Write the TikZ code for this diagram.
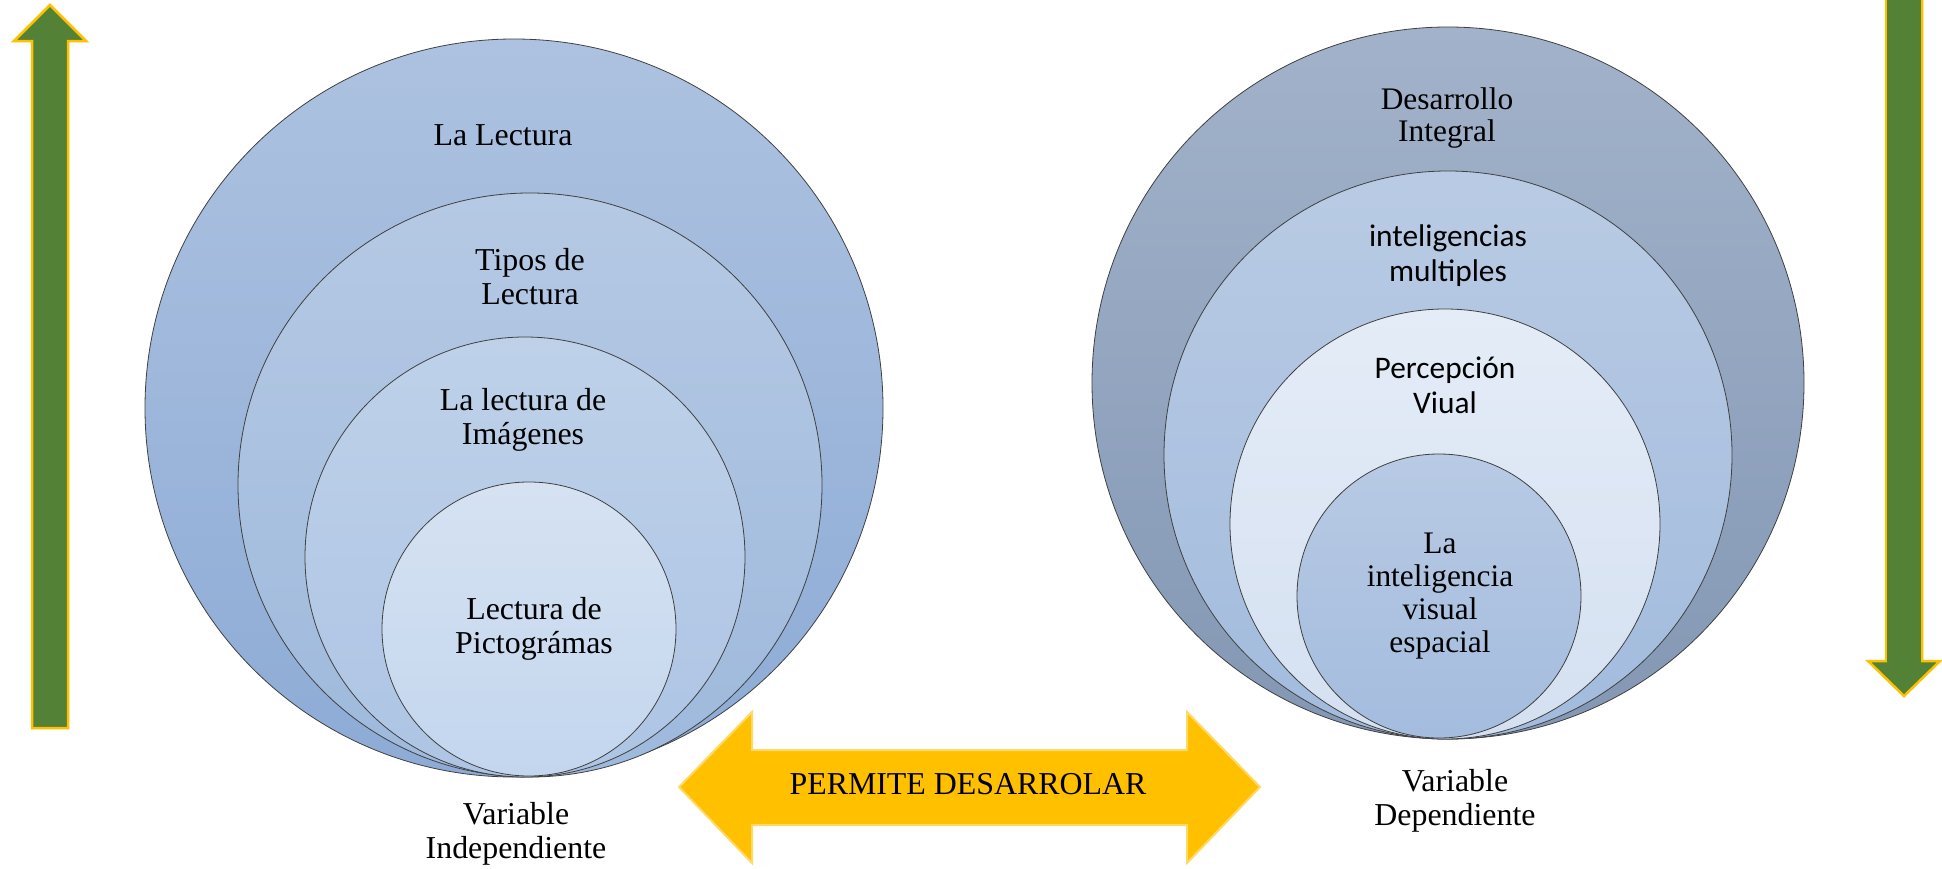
\documentclass[tikz,border=0pt]{standalone}
\usepackage{fontspec}
\setmainfont{Liberation Serif}
\newfontfamily\calfont{Carlito}
\definecolor{arrowgreen}{HTML}{538135}
\definecolor{arrowyellow}{HTML}{FFC000}
\definecolor{goldfill}{HTML}{FFC000}
\definecolor{goldline}{HTML}{FFD966}
\definecolor{lAt}{HTML}{ADC2E0}\definecolor{lAb}{HTML}{8DABD6}
\definecolor{lBt}{HTML}{B5C9E4}\definecolor{lBb}{HTML}{9EB9DC}
\definecolor{lCt}{HTML}{BED1E9}\definecolor{lCb}{HTML}{ADC4E4}
\definecolor{lDt}{HTML}{D6E2F2}\definecolor{lDb}{HTML}{C3D6EE}
\definecolor{rAt}{HTML}{A2B2CA}\definecolor{rAb}{HTML}{8397B4}
\definecolor{rBt}{HTML}{B9CBE4}\definecolor{rBb}{HTML}{A2BBDD}
\definecolor{rCt}{HTML}{E4ECF7}\definecolor{rCb}{HTML}{D4E0F1}
\definecolor{rDt}{HTML}{B8CAE4}\definecolor{rDb}{HTML}{A4BCDE}
\begin{document}
\begin{tikzpicture}[x=1bp,y=-1bp,
  ring/.style={circle, draw=black!75, line width=0.8bp, inner sep=0pt},
  lbl/.style={align=center, font=\fontsize{32}{34}\selectfont, inner sep=0pt},
  lblr/.style={align=center, font=\fontsize{31.5}{33}\selectfont, inner sep=0pt},
  lblc/.style={align=center, font=\calfont\fontsize{31.5}{35}\selectfont, inner sep=0pt},
  greenarrow/.style={fill=arrowgreen, draw=arrowyellow, line width=2.5bp, line join=miter},
]
\useasboundingbox (0,0) rectangle (1942,869);
\fill[white] (0,0) rectangle (1942,869);

% left circles
\node[ring, minimum size=738bp, top color=lAt, bottom color=lAb] (L1) at (514,408) {};
\node[ring, minimum size=584bp, top color=lBt, bottom color=lBb] (L2) at (530,485) {};
\node[ring, minimum size=440bp, top color=lCt, bottom color=lCb] (L3) at (525,557) {};
\node[ring, minimum size=294bp, top color=lDt, bottom color=lDb] (L4) at (529,629) {};

% right circles
\node[ring, minimum size=712bp, top color=rAt, bottom color=rAb] (R1) at (1448,383) {};
\node[ring, minimum size=568bp, top color=rBt, bottom color=rBb] (R2) at (1448,455) {};
\node[ring, minimum size=430bp, top color=rCt, bottom color=rCb] (R3) at (1445,524) {};
\node[ring, minimum size=284bp, top color=rDt, bottom color=rDb] (R4) at (1439,596) {};

% left texts
\node[lbl] (tL1) at (503,135) {La Lectura};
\node[lbl] (tL2) at (530,277) {Tipos de\\Lectura};
\node[lbl] (tL3) at (523,420) {La lectura de\\Imágenes};
\node[lbl] (tL4) at (534,629) {Lectura de\\Pictográmas};
\node[lbl] (vI) at (516,834) {Variable\\Independiente};

% right texts
\node[lblr] (tR1) at (1447,118) {Desarrollo\\Integral};
\node[lblc] (tR2) at (1448,256) {inteligencias\\multiples};
\node[lblc] (tR3) at (1445,385) {Percepción\\Viual};
\node[lblr] (tR4) at (1440,596) {La\\inteligencia\\visual\\espacial};
\node[lbl] (vD) at (1455,801) {Variable\\Dependiente};

% green arrows
\draw[greenarrow] (50,5) -- (86,41) -- (68,41) -- (68,728) -- (32,728) -- (32,41) -- (14,41) -- cycle;
\draw[greenarrow] (1886,-5) -- (1886,661) -- (1868,661) -- (1904,696) -- (1940,661) -- (1922,661) -- (1922,-5);
\fill[arrowgreen] (1887.2,-5) rectangle (1920.8,662);

% double arrow
\draw[fill=goldfill, draw=goldline, line width=2bp, line join=miter]
  (679,787) -- (752,712) -- (752,750) -- (1187,750) -- (1187,712) -- (1260,787)
  -- (1187,863) -- (1187,825) -- (752,825) -- (752,863) -- cycle;
\node[inner sep=0pt, font=\fontsize{32}{36}\selectfont] (perm) at (968,784) {PERMITE DESARROLAR};
\end{tikzpicture}
\end{document}
